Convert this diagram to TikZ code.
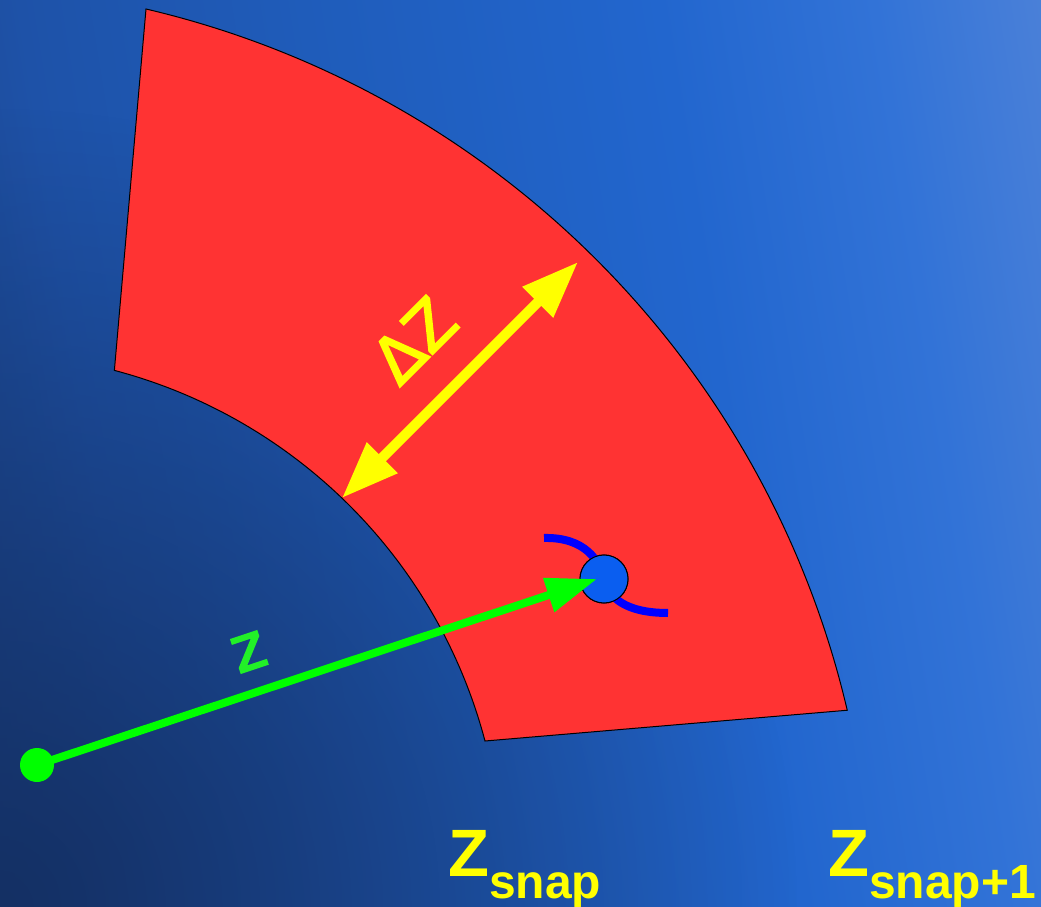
\documentclass[tikz,border=0pt]{standalone}
\usepackage{fontspec}
\newfontfamily\dvfont[FakeBold=2.5]{DejaVu Sans}
\newfontfamily\libfont{Liberation Sans}
\usetikzlibrary{arrows.meta,fadings}
\definecolor{bgA}{RGB}{28,70,142}
\definecolor{bgB}{RGB}{30,82,168}
\definecolor{bgC}{RGB}{31,92,186}
\definecolor{bgD}{RGB}{34,102,206}
\definecolor{bgE}{RGB}{50,115,215}
\definecolor{bgF}{RGB}{74,128,216}
\definecolor{bgdark}{RGB}{20,48,100}
\definecolor{sectorred}{RGB}{255,51,51}
\definecolor{arrowyellow}{RGB}{255,255,0}
\definecolor{arrowgreen}{RGB}{0,255,0}
\definecolor{labelgreen}{RGB}{34,240,40}
\definecolor{pointblue}{RGB}{10,94,240}
\definecolor{curveblue}{RGB}{0,0,255}
\pgfdeclarehorizontalshading{bgshade}{100bp}{color(0bp)=(bgA); color(21.3bp)=(bgA); color(29.3bp)=(bgB); color(43bp)=(bgC); color(60.2bp)=(bgD); color(70.6bp)=(bgE); color(78.7bp)=(bgF); color(100bp)=(bgF)}
\tikzfading[name=cornerfade, inner color=transparent!0, outer color=transparent!100]
\tikzset{
  sector/.style={fill=sectorred, draw=black, line width=1pt},
  dzarrow/.style={draw=arrowyellow, line width=10pt, {Triangle[length=57pt,width=41pt]}-{Triangle[length=57pt,width=41pt]}},
  zarrow/.style={draw=arrowgreen, line width=8pt, -{Triangle[length=51pt,width=34pt]}},
  startdot/.style={circle, fill=arrowgreen, minimum size=34pt, inner sep=0pt},
  pointdot/.style={circle, fill=pointblue, draw=black, line width=1pt, minimum size=48pt, inner sep=0pt},
  track/.style={draw=curveblue, line width=8pt},
  biglabel/.style={font=\dvfont\fontsize{64}{64}\selectfont, inner sep=0pt},
  snaplabel/.style={text=arrowyellow, font=\libfont\bfseries, inner sep=0pt, anchor=base west}
}
\begin{document}
\begin{tikzpicture}[x=1pt,y=1pt]
\useasboundingbox (0,0) rectangle (1041,906);
% background
\shade[shading=bgshade, shading angle=9.2] (0,0) rectangle (1041,906);
\begin{scope}
  \clip (0,0) rectangle (1041,906);
  \fill[bgdark, path fading=cornerfade] (0,0) circle (800);
\end{scope}
% annular sector
\path[sector] (146,897) arc[start angle=76.8, end angle=13.2, radius=941]
  -- (485,165) arc[start angle=14.8, end angle=75.2, radius=521] -- cycle;
% Delta Z arrow
\coordinate (dzin) at (342,408);
\coordinate (dzout) at (578,644);
\draw[dzarrow] (dzin) -- (dzout);
\node[biglabel, text=arrowyellow, rotate=45] (dzlabel) at (414,566) {ΔZ};
% blue track and point
\coordinate (trackA) at (544,368);
\coordinate (trackB) at (668,293);
\node[pointdot] (pt) at (604,327) {};
\draw[track] (trackA) .. controls (585,369) and (600,345) .. (pt.center)
  .. controls (608,309) and (625,293) .. (trackB);
\node[pointdot] at (pt.center) {};
% green z arrow
\node[startdot] (origin) at (37,141) {};
\draw[zarrow] (origin.center) -- ([xshift=-7pt]pt.center);
\node[biglabel, text=labelgreen, rotate=18.4] (zlabel) at (249,254) {z};
% snapshot labels
\node[snaplabel] (zsnap) at (448,30) {{\fontsize{67}{67}\selectfont Z}\raisebox{-22pt}{\fontsize{48}{48}\selectfont snap}};
\node[snaplabel] (zsnapnext) at (828,30) {{\fontsize{67}{67}\selectfont Z}\raisebox{-22pt}{\fontsize{48}{48}\selectfont snap+1}};
\end{tikzpicture}
\end{document}
